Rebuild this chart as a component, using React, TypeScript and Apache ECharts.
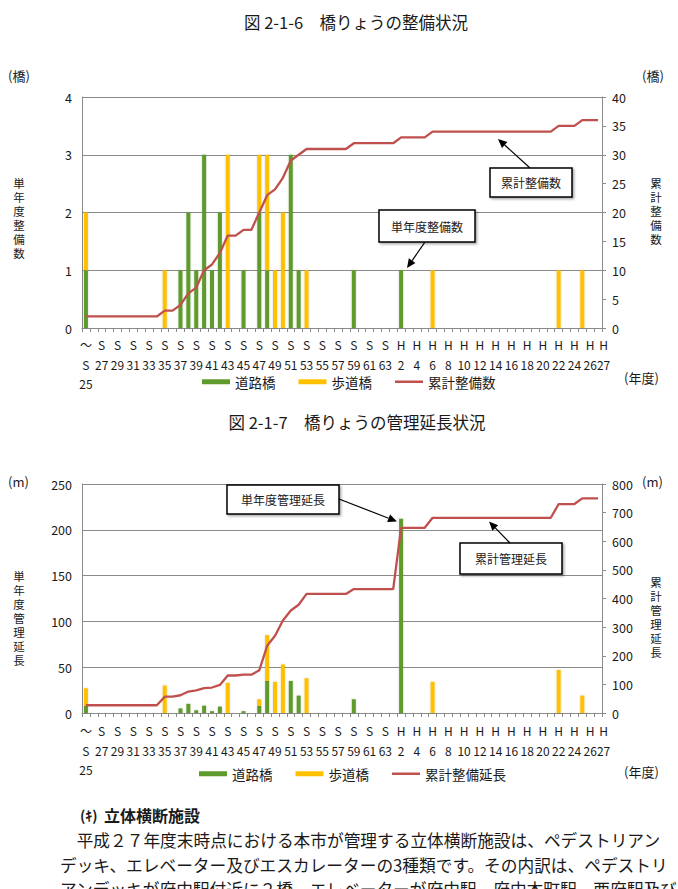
import React, { useEffect, useRef } from 'react';
import * as echarts from 'echarts';

const categories = [
  'S25', 'S26', 'S27', 'S28', 'S29', 'S30', 'S31', 'S32', 'S33', 'S34',
  'S35', 'S36', 'S37', 'S38', 'S39', 'S40', 'S41', 'S42', 'S43', 'S44',
  'S45', 'S46', 'S47', 'S48', 'S49', 'S50', 'S51', 'S52', 'S53', 'S54',
  'S55', 'S56', 'S57', 'S58', 'S59', 'S60', 'S61', 'S62', 'S63', 'H1',
  'H2', 'H3', 'H4', 'H5', 'H6', 'H7', 'H8', 'H9', 'H10', 'H11',
  'H12', 'H13', 'H14', 'H15', 'H16', 'H17', 'H18', 'H19', 'H20', 'H21',
  'H22', 'H23', 'H24', 'H25', 'H26', 'H27',
];

// 図2-1-6 橋りょうの整備状況（橋）
const roadCount = [
  1, 0, 0, 0, 0, 0, 0, 0, 0, 0,
  0, 0, 1, 2, 1, 3, 1, 2, 0, 0,
  1, 0, 2, 1, 0, 0, 3, 1, 0, 0,
  0, 0, 0, 0, 1, 0, 0, 0, 0, 0,
  1, 0, 0, 0, 0, 0, 0, 0, 0, 0,
  0, 0, 0, 0, 0, 0, 0, 0, 0, 0,
  0, 0, 0, 0, 0, 0,
];
const pedCount = [
  1, 0, 0, 0, 0, 0, 0, 0, 0, 0,
  1, 0, 0, 0, 0, 0, 0, 0, 3, 0,
  0, 0, 1, 2, 1, 2, 0, 0, 1, 0,
  0, 0, 0, 0, 0, 0, 0, 0, 0, 0,
  0, 0, 0, 0, 1, 0, 0, 0, 0, 0,
  0, 0, 0, 0, 0, 0, 0, 0, 0, 0,
  1, 0, 0, 1, 0, 0,
];
const cumCount = [
  2, 2, 2, 2, 2, 2, 2, 2, 2, 2,
  3, 3, 4, 6, 7, 10, 11, 13, 16, 16,
  17, 17, 20, 23, 24, 26, 29, 30, 31, 31,
  31, 31, 31, 31, 32, 32, 32, 32, 32, 32,
  33, 33, 33, 33, 34, 34, 34, 34, 34, 34,
  34, 34, 34, 34, 34, 34, 34, 34, 34, 34,
  35, 35, 35, 36, 36, 36,
];

// 図2-1-7 橋りょうの管理延長状況（m）
const roadLen = [
  8, 0, 0, 0, 0, 0, 0, 0, 0, 0,
  0, 0, 5, 10, 3, 8, 2, 7, 0, 0,
  2, 0, 8, 35, 0, 0, 35, 19, 0, 0,
  0, 0, 0, 0, 15, 0, 0, 0, 0, 0,
  212, 0, 0, 0, 0, 0, 0, 0, 0, 0,
  0, 0, 0, 0, 0, 0, 0, 0, 0, 0,
  0, 0, 0, 0, 0, 0,
];
const pedLen = [
  19, 0, 0, 0, 0, 0, 0, 0, 0, 0,
  30, 0, 0, 0, 0, 0, 0, 0, 33, 0,
  0, 0, 7, 50, 34, 53, 0, 0, 38, 0,
  0, 0, 0, 0, 0, 0, 0, 0, 0, 0,
  0, 0, 0, 0, 34, 0, 0, 0, 0, 0,
  0, 0, 0, 0, 0, 0, 0, 0, 0, 0,
  47, 0, 0, 19, 0, 0,
];
const cumLen = [
  27, 27, 27, 27, 27, 27, 27, 27, 27, 27,
  57, 57, 62, 75, 79, 87, 89, 98, 131, 131,
  134, 134, 149, 235, 270, 323, 358, 378, 416, 416,
  416, 416, 416, 416, 433, 433, 433, 433, 433, 433,
  647, 647, 647, 647, 682, 682, 682, 682, 682, 682,
  682, 682, 682, 682, 682, 682, 682, 682, 682, 682,
  730, 730, 730, 750, 750, 750,
];

const FONT = '"Noto Sans CJK JP", "Noto Sans", sans-serif';
const GREEN = '#5f9b2c';
const YELLOW = '#ffc000';
const RED = '#c0504d';
const AXIS = '#8a8a8a';
const TXT = '#1a1a1a';
const LINE_ICON = 'path://M0,0H28V2.5H0Z';
const LAST = categories.length - 1;

const labelFormatter = (v: string) => {
  const era = v.charAt(0);
  const num = v.slice(1);
  if (v === 'S25') return '～\nS\n25';
  return era + '\n' + num;
};

const baseLabel = (margin: number) => ({
  margin,
  fontSize: 12,
  lineHeight: 19.5,
  color: TXT,
  fontFamily: FONT,
});

const xAxisCfg = (gridIndex: number, margin: number) => ({
  type: 'category',
  gridIndex,
  position: 'bottom',
  data: categories,
  boundaryGap: true,
  axisLine: { show: true, onZero: false, lineStyle: { color: AXIS, width: 1 } },
  axisTick: { show: true, interval: 0, length: 4, lineStyle: { color: AXIS } },
  axisLabel: {
    ...baseLabel(margin),
    interval: (i: number) => i % 2 === 0 && i !== LAST,
    formatter: labelFormatter,
  },
});

// companion axis that only carries the final "H27" label (the reference nudges it right)
const xAxisLastLabel = (gridIndex: number, margin: number) => ({
  type: 'category',
  gridIndex,
  position: 'bottom',
  data: categories,
  boundaryGap: true,
  axisLine: { show: false, onZero: false },
  axisTick: { show: false },
  splitLine: { show: false },
  axisLabel: {
    ...baseLabel(margin),
    interval: (i: number) => i === LAST,
    showMaxLabel: true,
    formatter: (v: string) => `{s|${v.charAt(0)}}\n{s|${v.slice(1)}}`,
    rich: {
      s: { fontSize: 12, lineHeight: 19.5, color: TXT, fontFamily: FONT, padding: [0, 0, 0, 11] },
    },
  },
});

const yLeft = (gridIndex: number, max: number, interval: number) => ({
  type: 'value',
  gridIndex,
  position: 'left',
  min: 0,
  max,
  interval,
  axisLine: { show: true, lineStyle: { color: AXIS } },
  axisTick: { show: false },
  splitLine: { show: true, lineStyle: { color: AXIS, width: 1 } },
  axisLabel: { margin: 10, fontSize: 12.5, color: TXT, fontFamily: FONT },
});

const yRight = (gridIndex: number, max: number, interval: number) => ({
  type: 'value',
  gridIndex,
  position: 'right',
  min: 0,
  max,
  interval,
  axisLine: { show: true, lineStyle: { color: AXIS } },
  axisTick: { show: true, length: 4, lineStyle: { color: AXIS } },
  splitLine: { show: false },
  axisLabel: { margin: 10, fontSize: 12.5, color: TXT, fontFamily: FONT },
});

const barStyle = (color: string) => ({
  color,
  shadowColor: 'rgba(0,0,0,0.18)',
  shadowBlur: 2,
});

const text = (x: number, y: number, t: string, size: number, opts: any = {}) => ({
  type: 'text',
  x,
  y,
  z: 100,
  style: {
    text: t,
    fill: opts.fill || TXT,
    font: `${opts.weight || 'normal'} ${size}px ${FONT}`,
    align: opts.align || 'left',
    verticalAlign: 'middle',
    textAlign: opts.align || 'left',
    textVerticalAlign: 'middle',
    lineHeight: opts.lineHeight,
  },
});

const arrow = (x1: number, y1: number, x2: number, y2: number) => {
  const dx = x2 - x1;
  const dy = y2 - y1;
  const len = Math.hypot(dx, dy);
  const ux = dx / len;
  const uy = dy / len;
  const L = 9;
  const W = 4;
  const bx = x2 - ux * L;
  const by = y2 - uy * L;
  return [
    { type: 'line', z: 100, shape: { x1, y1, x2: bx, y2: by }, style: { stroke: '#000', lineWidth: 1.2 } },
    {
      type: 'polygon',
      z: 100,
      shape: { points: [[x2, y2], [bx - uy * W, by + ux * W], [bx + uy * W, by - ux * W]] },
      style: { fill: '#000' },
    },
  ];
};

const callout = (x: number, y: number, w: number, h: number, t: string) => [
  {
    type: 'rect',
    z: 99,
    shape: { x, y, width: w, height: h },
    style: {
      fill: '#fff',
      stroke: '#000',
      lineWidth: 1.5,
      shadowBlur: 2,
      shadowOffsetX: 1.5,
      shadowOffsetY: 1.5,
      shadowColor: 'rgba(0,0,0,0.35)',
    },
  },
  text(x + w / 2, y + h / 2, t, 12, { align: 'center' }),
];

const vertical = (s: string) => s.split('').join('\n');

export default function App() {
  const ref = useRef<HTMLDivElement>(null);

  useEffect(() => {
    if (!ref.current) return;
    const chart = echarts.init(ref.current, undefined, { renderer: 'svg' });
    const legendCfg = (lineName: string, left: number, top: number) => ({
      data: [
        { name: '道路橋', icon: 'rect' },
        { name: '歩道橋', icon: 'rect' },
        { name: lineName, icon: LINE_ICON },
      ],
      left,
      top,
      padding: 0,
      itemWidth: 28,
      itemHeight: 5,
      itemGap: 23,
      selectedMode: false,
      textStyle: { fontSize: 13.5, fontFamily: FONT, color: TXT },
    });
    const option: any = {
      animation: false,
      backgroundColor: '#fff',
      grid: [
        { left: 82, top: 97, width: 520, height: 231 },
        { left: 82, top: 484, width: 520, height: 229 },
      ],
      xAxis: [xAxisCfg(0, 7), xAxisCfg(1, 8), xAxisLastLabel(0, 7), xAxisLastLabel(1, 8)],
      yAxis: [yLeft(0, 4, 1), yRight(0, 40, 5), yLeft(1, 250, 50), yRight(1, 800, 100)],
      legend: [legendCfg('累計整備数', 202, 375), legendCfg('累計整備延長', 199, 767)],
      series: [
        {
          type: 'bar', name: '道路橋', xAxisIndex: 0, yAxisIndex: 0, stack: 'c1',
          data: roadCount, barWidth: 4, itemStyle: barStyle(GREEN),
        },
        {
          type: 'bar', name: '歩道橋', xAxisIndex: 0, yAxisIndex: 0, stack: 'c1',
          data: pedCount, barWidth: 4, itemStyle: barStyle(YELLOW),
        },
        {
          type: 'line', name: '累計整備数', xAxisIndex: 0, yAxisIndex: 1, data: cumCount,
          symbol: 'none', z: 5, lineStyle: { color: RED, width: 2.3 }, itemStyle: { color: RED },
        },
        {
          type: 'bar', name: '道路橋', xAxisIndex: 1, yAxisIndex: 2, stack: 'c2',
          data: roadLen, barWidth: 4, itemStyle: barStyle(GREEN),
        },
        {
          type: 'bar', name: '歩道橋', xAxisIndex: 1, yAxisIndex: 2, stack: 'c2',
          data: pedLen, barWidth: 4, itemStyle: barStyle(YELLOW),
        },
        {
          type: 'line', name: '累計整備延長', xAxisIndex: 1, yAxisIndex: 3, data: cumLen,
          symbol: 'none', z: 5, lineStyle: { color: RED, width: 2.3 }, itemStyle: { color: RED },
        },
      ],
      graphic: [
        // chart 1
        text(356, 22, '図 2-1-6　橋りょうの整備状況', 16.5, { align: 'center' }),
        text(8, 75, '(橋)', 13),
        text(642, 75, '(橋)', 13),
        text(19, 218, vertical('単年度整備数'), 11.5, { align: 'center', lineHeight: 14 }),
        text(656, 211, vertical('累計整備数'), 11.5, { align: 'center', lineHeight: 14 }),
        text(624, 377, '(年度)', 13),
        ...callout(490, 168, 82, 29, '累計整備数'),
        ...arrow(530, 168, 498, 139),
        ...callout(379, 210, 96, 32, '単年度整備数'),
        ...arrow(425, 242, 407, 268),
        // chart 2
        text(357, 422, '図 2-1-7　橋りょうの管理延長状況', 16.5, { align: 'center' }),
        text(8, 481, '(m)', 13),
        text(642, 481, '(m)', 13),
        text(19, 618, vertical('単年度管理延長'), 11.5, { align: 'center', lineHeight: 14 }),
        text(656, 617, vertical('累計管理延長'), 11.5, { align: 'center', lineHeight: 14 }),
        text(624, 771, '(年度)', 13),
        ...callout(227, 485, 112, 29, '単年度管理延長'),
        ...arrow(339, 499, 397, 521.5),
        ...callout(460, 543, 102, 31, '累計管理延長'),
        ...arrow(510, 543, 489, 521.5),
        // body text
        text(80, 815, '(ｷ)', 14, { weight: 'bold' }),
        text(104, 815, '立体横断施設', 16, { weight: 'bold' }),
        text(60, 840, '　平成２７年度末時点における本市が管理する立体横断施設は、ペデストリアン', 16.7),
        text(60, 865, 'デッキ、エレベーター及びエスカレーターの3種類です。その内訳は、ペデストリ', 16.7),
        text(60, 889, 'アンデッキが府中駅付近に２橋、エレベーターが府中駅、府中本町駅、西府駅及び', 16.7),
      ],
    };
    chart.setOption(option);
    return () => chart.dispose();
  }, []);

  return (
    <div
      ref={ref}
      style={{ position: 'fixed', left: 0, top: 0, width: 678, height: 889, background: '#fff' }}
    />
  );
}
